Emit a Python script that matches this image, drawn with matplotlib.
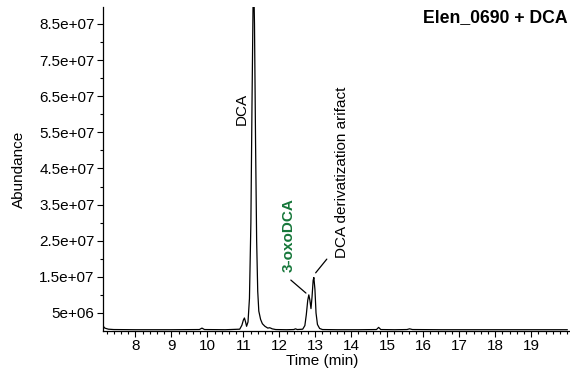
import matplotlib
matplotlib.use('Agg')
import matplotlib.pyplot as plt
from matplotlib.ticker import MultipleLocator, FixedLocator

plt.rcParams['font.family'] = ['Liberation Sans', 'DejaVu Sans']

# chromatogram trace (time in min, abundance)
time_min = [7.10, 7.15, 7.25, 7.40, 8.0, 9.0, 9.78, 9.85, 9.92, 10.5, 10.90, 10.96,
            11.00, 11.03, 11.06, 11.09, 11.13, 11.17, 11.21, 11.24, 11.27, 11.29,
            11.31, 11.34, 11.37, 11.40, 11.43, 11.48, 11.53, 11.60, 11.68, 11.73,
            11.76, 11.80, 11.9, 12.2, 12.4, 12.45, 12.5, 12.65, 12.71, 12.75, 12.79,
            12.82, 12.85, 12.88, 12.91, 12.94, 12.96, 12.99, 13.02, 13.06, 13.12,
            13.2, 13.6, 14.2, 14.70, 14.76, 14.82, 15.2, 15.55, 15.62, 15.7, 16.5,
            17.5, 18.5, 19.5, 20.0]
abundance = [1.4e6, 0.8e6, 0.5e6, 0.4e6, 0.35e6, 0.35e6, 0.4e6, 0.8e6, 0.4e6, 0.35e6,
             0.5e6, 1.6e6, 3.0e6, 3.6e6, 2.6e6, 1.3e6, 2.5e6, 9e6, 30e6, 62e6, 90e6,
             96e6, 85e6, 52e6, 25e6, 11e6, 5.5e6, 3.2e6, 2.0e6, 1.3e6, 0.8e6, 0.9e6,
             0.8e6, 0.6e6, 0.4e6, 0.35e6, 0.4e6, 0.6e6, 0.4e6, 0.5e6, 1.5e6, 4.5e6,
             8.5e6, 10.0e6, 8.5e6, 6.2e6, 9.5e6, 14.0e6, 14.8e6, 11.5e6, 5.0e6, 1.8e6,
             0.7e6, 0.4e6, 0.35e6, 0.35e6, 0.4e6, 1.0e6, 0.4e6, 0.35e6, 0.4e6, 0.6e6,
             0.4e6, 0.35e6, 0.35e6, 0.35e6, 0.35e6, 0.35e6]

y_ticks = [5e6, 1.5e7, 2.5e7, 3.5e7, 4.5e7, 5.5e7, 6.5e7, 7.5e7, 8.5e7]
y_tick_labels = ['5e+06', '1.5e+07', '2.5e+07', '3.5e+07', '4.5e+07',
                 '5.5e+07', '6.5e+07', '7.5e+07', '8.5e+07']
x_ticks = list(range(8, 20))

fig = plt.figure(figsize=(5.70, 3.76), dpi=100, facecolor='white')
ax = fig.add_axes([0.1807, 0.1197, 0.8175, 0.8617])

ax.plot(time_min, abundance, color='black', lw=0.9)

ax.set_xlim(7.1, 20.05)
ax.set_ylim(0, 8.97e7)

ax.spines['top'].set_visible(False)
ax.spines['right'].set_visible(False)
ax.spines['left'].set_linewidth(0.9)
ax.spines['bottom'].set_linewidth(0.9)

ax.set_xticks(x_ticks)
ax.set_xticklabels([str(t) for t in x_ticks])
ax.xaxis.set_minor_locator(MultipleLocator(0.2))
ax.set_yticks(y_ticks)
ax.set_yticklabels(y_tick_labels)
ax.yaxis.set_minor_locator(FixedLocator([1e7 * k for k in range(1, 9)]))

ax.tick_params(axis='both', which='major', labelsize=11, length=4, width=0.8,
               direction='out', colors='black', pad=2)
ax.tick_params(axis='both', which='minor', length=2.5, width=0.8, direction='out')

ax.set_xlabel('Time (min)', fontsize=11)
ax.set_ylabel('Abundance', fontsize=11)
ax.xaxis.set_label_coords(0.471, -0.07)
ax.yaxis.set_label_coords(-0.165, 0.5)

# peak labels
ax.text(10.96, 61.5e6, 'DCA', rotation=90, ha='center', va='center', fontsize=11)
ax.text(12.27, 26.6e6, '3-oxoDCA', rotation=90, ha='center', va='center',
        fontsize=11, fontweight='bold', color='#16773a')
ax.text(13.73, 20.2e6, 'DCA derivatization arifact', rotation=90, ha='center',
        va='bottom', fontsize=11)
ax.annotate('', xy=(12.74, 10.5e6), xytext=(12.32, 14.1e6),
            arrowprops=dict(arrowstyle='-', lw=0.9, color='black',
                            shrinkA=0, shrinkB=0))
ax.annotate('', xy=(13.01, 16.1e6), xytext=(13.32, 19.9e6),
            arrowprops=dict(arrowstyle='-', lw=0.9, color='black',
                            shrinkA=0, shrinkB=0))

fig.text(0.996, 0.953, 'Elen_0690 + DCA', ha='right', va='center',
         fontsize=12.7, fontweight='bold')

fig.savefig('out.png', dpi=100, facecolor='white')
